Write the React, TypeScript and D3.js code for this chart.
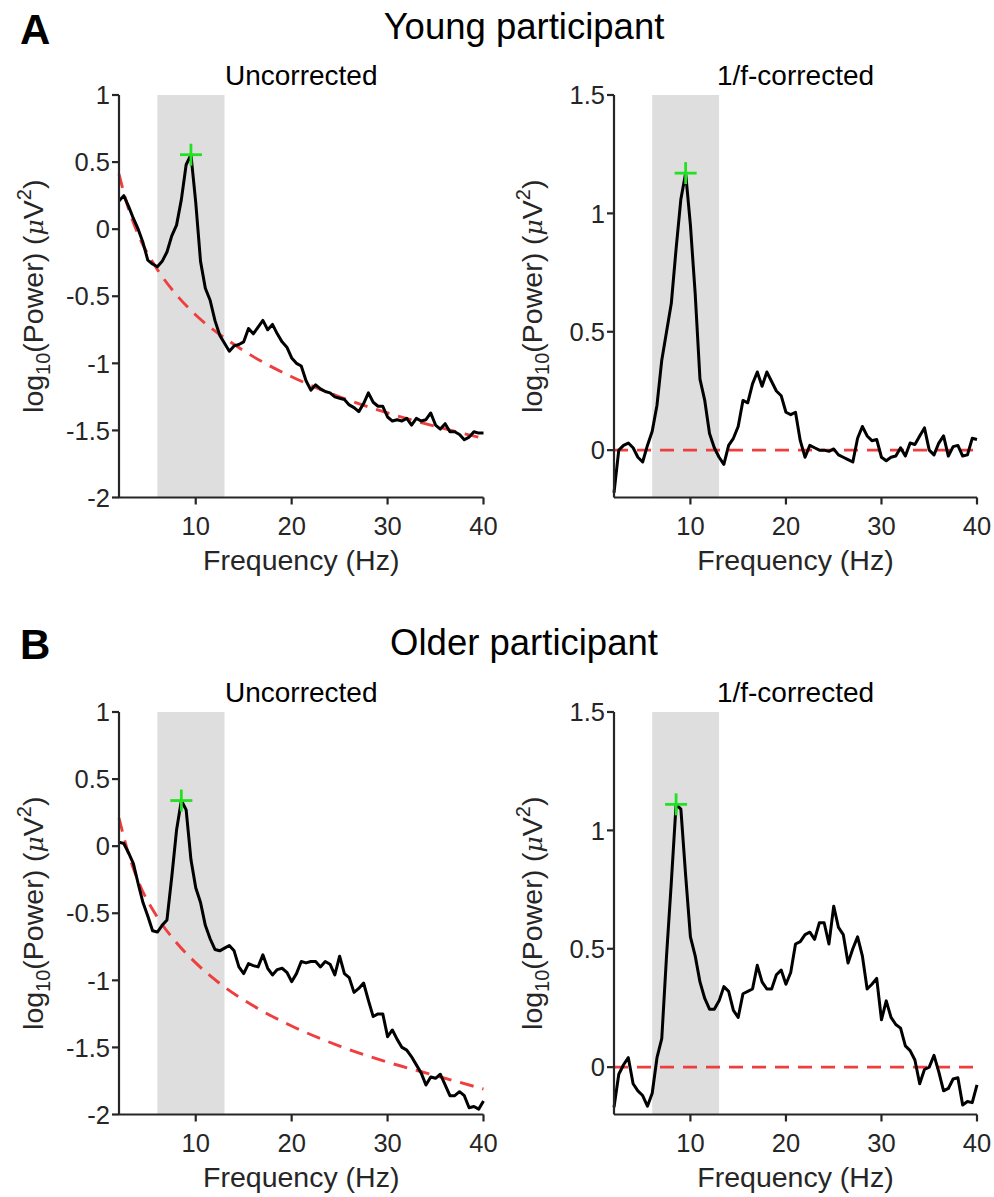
import React from "react";
import * as d3 from "d3";

// frequency bins, 0.5 Hz steps from 2 to 40 Hz
const freqs = d3.range(2, 40.25, 0.5);

// log10 power (one value per 0.5 Hz bin)
const youngUncorrected = [
  0.21, 0.25, 0.17, 0.08, 0.0, -0.1, -0.23, -0.26, -0.28, -0.24,
  -0.17, -0.05, 0.03, 0.22, 0.48, 0.555, 0.2, -0.24, -0.44, -0.53,
  -0.68, -0.79, -0.85, -0.91, -0.87, -0.86, -0.84, -0.74, -0.78, -0.73,
  -0.68, -0.75, -0.71, -0.78, -0.84, -0.88, -0.96, -1.0, -1.02, -1.13,
  -1.2, -1.16, -1.19, -1.21, -1.22, -1.25, -1.26, -1.27, -1.31, -1.33,
  -1.36, -1.3, -1.22, -1.29, -1.32, -1.32, -1.4, -1.43, -1.42, -1.43,
  -1.41, -1.46, -1.41, -1.43, -1.42, -1.37, -1.46, -1.49, -1.45, -1.51,
  -1.51, -1.53, -1.57, -1.55, -1.51, -1.52, -1.52
];

const youngCorrected = [
  -0.18, 0.0, 0.02, 0.03, 0.01, -0.03, -0.05, 0.02, 0.08, 0.19,
  0.38, 0.5, 0.62, 0.85, 1.06, 1.17, 0.95, 0.66, 0.3, 0.21,
  0.07, 0.01, -0.03, -0.06, 0.02, 0.05, 0.1, 0.21, 0.2, 0.28,
  0.33, 0.27, 0.33, 0.29, 0.25, 0.23, 0.16, 0.15, 0.16, 0.04,
  -0.03, 0.02, 0.01, 0.0, 0.0, -0.005, 0.005, -0.02, -0.03, -0.04,
  -0.05, 0.05, 0.1, 0.06, 0.04, 0.045, -0.03, -0.045, -0.03, -0.025,
  0.01, -0.025, 0.03, 0.024, 0.06, 0.094, 0.0, -0.02, 0.03, 0.06,
  -0.025, 0.015, 0.02, -0.025, -0.02, 0.05, 0.045
];

const olderUncorrected = [
  0.03, 0.02, -0.05, -0.13, -0.28, -0.42, -0.52, -0.63, -0.64, -0.59,
  -0.55, -0.23, 0.12, 0.34, 0.27, -0.1, -0.31, -0.42, -0.59, -0.69,
  -0.77, -0.78, -0.76, -0.74, -0.78, -0.9, -0.95, -0.875, -0.89, -0.9,
  -0.81, -0.91, -0.96, -0.92, -0.91, -0.94, -1.01, -0.95, -0.86, -0.87,
  -0.86, -0.86, -0.9, -0.86, -0.88, -0.96, -0.82, -0.95, -0.98, -1.09,
  -1.06, -1.02, -1.15, -1.27, -1.25, -1.25, -1.42, -1.37, -1.44, -1.5,
  -1.52, -1.57, -1.63, -1.69, -1.78, -1.72, -1.73, -1.7, -1.78, -1.86,
  -1.86, -1.83, -1.86, -1.95, -1.94, -1.96, -1.9
];

const olderCorrected = [
  -0.17, -0.03, 0.01, 0.04, -0.07, -0.1, -0.12, -0.165, -0.11, 0.04,
  0.12, 0.47, 0.78, 1.11, 1.09, 0.81, 0.55, 0.47, 0.36, 0.29,
  0.245, 0.245, 0.28, 0.34, 0.32, 0.24, 0.21, 0.31, 0.32, 0.33,
  0.43, 0.36, 0.33, 0.33, 0.39, 0.41, 0.35, 0.4, 0.52, 0.53,
  0.56, 0.57, 0.54, 0.61, 0.61, 0.52, 0.68, 0.59, 0.56, 0.44,
  0.5, 0.55, 0.47, 0.33, 0.35, 0.375, 0.2, 0.28, 0.21, 0.18,
  0.165, 0.09, 0.07, 0.03, -0.07, -0.01, 0.0, 0.05, -0.02, -0.1,
  -0.09, -0.05, -0.045, -0.16, -0.145, -0.15, -0.075
];

// 1/f fits (red dashed), read at a few frequencies
const fitFreqs = [2, 3, 4, 6, 8, 10, 13, 16, 20, 25, 30, 35, 40];
const youngFit = [0.41, 0.15, -0.04, -0.3, -0.49, -0.64, -0.81, -0.95, -1.1, -1.25, -1.37, -1.47, -1.56];
const olderFit = [0.21, -0.06, -0.26, -0.53, -0.72, -0.87, -1.05, -1.19, -1.34, -1.49, -1.61, -1.71, -1.81];
const flatFreqs = [2, 40];
const flatFit = [0, 0];

// alpha peak (green cross): [freq, uncorrected, corrected]
const youngPeak = [9.5, 0.555, 1.17];
const olderPeak = [8.5, 0.34, 1.11];

const alphaBand = [6, 13];
const xTicks = [10, 20, 30, 40];
const uncorrTicks = [-2, -1.5, -1, -0.5, 0, 0.5, 1];
const corrTicks = [0, 0.5, 1, 1.5];

const font = "'Liberation Sans', Arial, Helvetica, sans-serif";
const axisColor = "#262626";

function Panel(props) {
  const { left, top, width, height, yDomain, yTicks, title, values, fitX, fitY, peak, ylabX } = props;

  const x = d3.scaleLinear().domain([2, 40]).range([0, width]);
  const y = d3.scaleLinear().domain(yDomain).range([height, 0]);

  const line = d3.line()
    .x(d => x(d[0]))
    .y(d => y(d[1]));

  const fitLine = d3.line()
    .curve(d3.curveMonotoneX)
    .x(d => x(d[0]))
    .y(d => y(d[1]));

  const pts = freqs.map((f, i) => [f, values[i]]);
  const fitPts = fitX.map((f, i) => [f, fitY[i]]);
  const px = x(peak[0]);
  const py = y(peak[1]);

  return (
    <g transform={`translate(${left},${top})`}>
      {/* alpha band */}
      <rect x={x(alphaBand[0])} y={0} width={x(alphaBand[1]) - x(alphaBand[0])} height={height} fill="#dedede" />

      {/* 1/f fit */}
      <path d={fitLine(fitPts)} fill="none" stroke="#ef3e3e" strokeWidth={2.9} strokeDasharray="14,9" />

      {/* spectrum */}
      <path d={line(pts)} fill="none" stroke="#000" strokeWidth={3} strokeLinejoin="round" />

      {/* peak marker */}
      <g stroke="#22e022" strokeWidth={2.8}>
        <line x1={px - 11} x2={px + 11} y1={py} y2={py} />
        <line x1={px} x2={px} y1={py - 11} y2={py + 11} />
      </g>

      {/* axes */}
      <g stroke={axisColor} strokeWidth={2.2} fill="none">
        <line x1={0} x2={width} y1={height} y2={height} />
        <line x1={0} x2={0} y1={0} y2={height} />
        {xTicks.map(t => (
          <line key={"xt" + t} x1={x(t)} x2={x(t)} y1={height} y2={height + 7} />
        ))}
        {yTicks.map(t => (
          <line key={"yt" + t} x1={-7} x2={0} y1={y(t)} y2={y(t)} />
        ))}
      </g>

      <g fontFamily={font} fill={axisColor} fontSize={25.5} fontWeight="normal">
        {xTicks.map(t => (
          <text key={"xl" + t} x={x(t)} y={height + 37.5} textAnchor="middle">{t}</text>
        ))}
        {yTicks.map(t => (
          <text key={"yl" + t} x={-9} y={y(t)} dy="0.36em" textAnchor="end">{String(t)}</text>
        ))}
      </g>

      {/* x label */}
      <text x={width / 2} y={height + 72.5} textAnchor="middle" fontFamily={font} fontSize={28.5} fontWeight="normal" fill={axisColor}>
        Frequency (Hz)
      </text>

      {/* y label */}
      <text
        transform={`translate(${ylabX},${height / 2}) rotate(-90)`}
        textAnchor="middle"
        fontFamily={font}
        fontSize={28.5}
        fontWeight="normal"
        fill={axisColor}
      >
        log<tspan fontSize={20} dy={7}>10</tspan>
        <tspan dy={-7}>(Power) (</tspan>
        <tspan fontStyle="italic" fontFamily="'DejaVu Serif', serif" fontSize={25}>μ</tspan>
        <tspan>V</tspan>
        <tspan fontSize={20} dy={-12}>2</tspan>
        <tspan dy={12}>)</tspan>
      </text>

      {/* title */}
      <text x={width / 2} y={-10} textAnchor="middle" fontFamily={font} fontSize={28} fontWeight="normal" fill="#000">
        {title}
      </text>
    </g>
  );
}

export default function App() {
  const rows = [
    { letter: "A", heading: "Young participant", top: 95, uncorr: youngUncorrected, corr: youngCorrected, fit: youngFit, peak: youngPeak, headY: 38.5, letterY: 43.5 },
    { letter: "B", heading: "Older participant", top: 712, uncorr: olderUncorrected, corr: olderCorrected, fit: olderFit, peak: olderPeak, headY: 655, letterY: 658.5 },
  ];
  const h = 402.5;

  return (
    <svg
      width={994}
      height={1197}
      style={{ position: "absolute", left: 0, top: 0, background: "#fff" }}
    >
      {rows.map(r => (
        <g key={r.letter}>
          <text x={20} y={r.letterY} fontFamily={font} fontWeight="bold" fontSize={42} fill="#000">{r.letter}</text>
          <text x={524} y={r.headY} textAnchor="middle" fontFamily={font} fontSize={36.5} fontWeight="normal" fill="#000">{r.heading}</text>
          <Panel
            left={119}
            top={r.top}
            width={364.5}
            height={h}
            yDomain={[-2, 1]}
            yTicks={uncorrTicks}
            title="Uncorrected"
            values={r.uncorr}
            fitX={fitFreqs}
            fitY={r.fit}
            peak={[r.peak[0], r.peak[1]]}
            ylabX={-76}
          />
          <Panel
            left={614}
            top={r.top}
            width={363}
            height={h}
            yDomain={[-0.2, 1.5]}
            yTicks={corrTicks}
            title="1/f-corrected"
            values={r.corr}
            fitX={flatFreqs}
            fitY={flatFit}
            peak={[r.peak[0], r.peak[2]]}
            ylabX={-72}
          />
        </g>
      ))}
    </svg>
  );
}
